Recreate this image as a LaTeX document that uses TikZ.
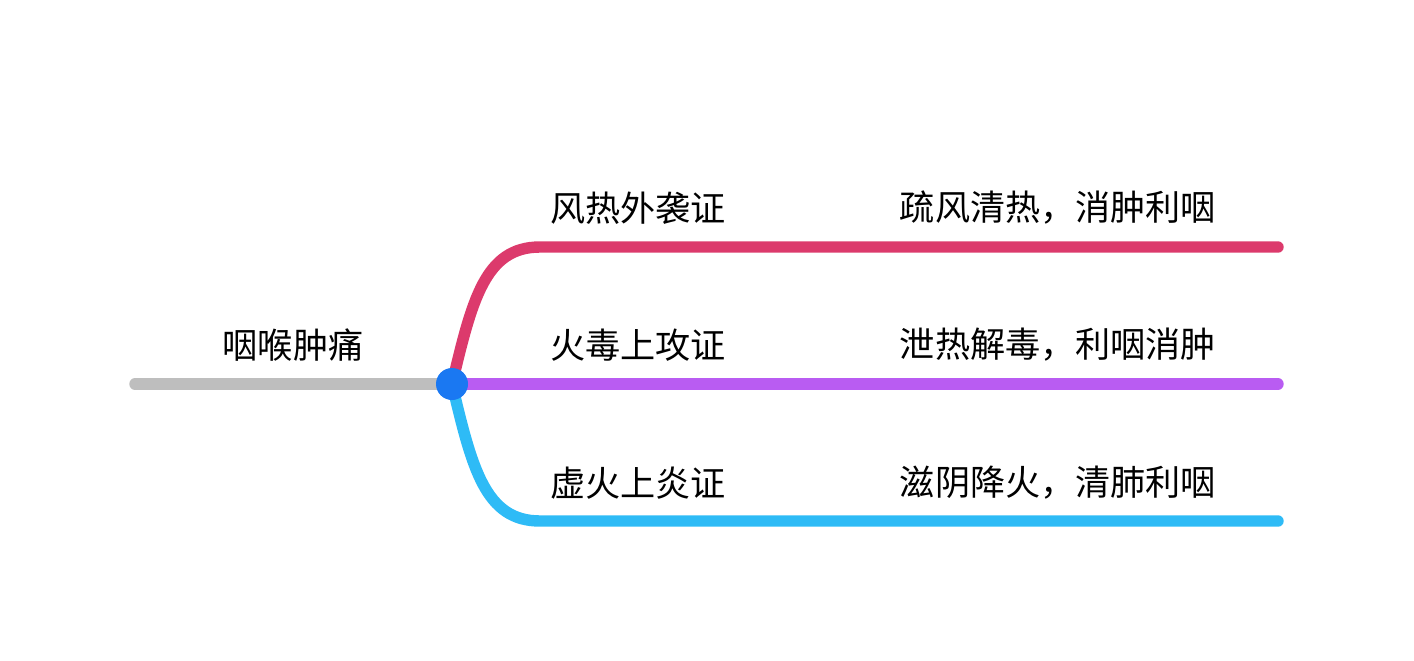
\documentclass[tikz,border=0pt]{standalone}
\usepackage{fontspec}
\setmainfont{Noto Sans CJK SC}
\usetikzlibrary{positioning}
\definecolor{redline}{HTML}{DC3A6C}
\definecolor{purpleline}{HTML}{B95CF2}
\definecolor{blueline}{HTML}{2EBBF6}
\definecolor{grayline}{HTML}{BEBEBE}
\definecolor{hubblue}{HTML}{1A78F2}
\begin{document}
\begin{tikzpicture}[
                    x=0.02cm, y=-0.02cm,
                    branch/.style={line width=6.5pt, line cap=round},
                    every node/.style={
                        inner sep=0pt,
                        font=\fontsize{20}{24}\selectfont
                    }
                ]
                    \useasboundingbox (0,0) rectangle (1414,660);
                    \coordinate (root) at (135,384);
                    \coordinate (hub) at (452,384);
                    \coordinate (r1) at (540,247);
                    \coordinate (r2) at (540,384);
                    \coordinate (r3) at (540,521);
                    \coordinate (e1) at (1278,247);
                    \coordinate (e2) at (1278,384);
                    \coordinate (e3) at (1278,521);

                    % Branches
                    \draw[branch, grayline] (root) -- (hub);
                    \draw[branch, redline] (hub) .. controls (472,300) and (485,247) .. (r1) -- (e1);
                    \draw[branch, purpleline] (hub) -- (r2) -- (e2);
                    \draw[branch, blueline] (hub) .. controls (472,468) and (485,521) .. (r3) -- (e3);
                    \fill[hubblue] (hub) circle (16);

                    % Labels
                    \node (main) at (293,345) {咽喉肿痛};
                    \node (t1) at (638,208) {风热外袭证};
                    \node (t2) at (638,345) {火毒上攻证};
                    \node (t3) at (638,483) {虚火上炎证};
                    \node (f1) at (1058,208) {疏风清热，消肿利咽};
                    \node (f2) at (1058,345) {泄热解毒，利咽消肿};
                    \node (f3) at (1058,483) {滋阴降火，清肺利咽};
                \end{tikzpicture}
\end{document}
